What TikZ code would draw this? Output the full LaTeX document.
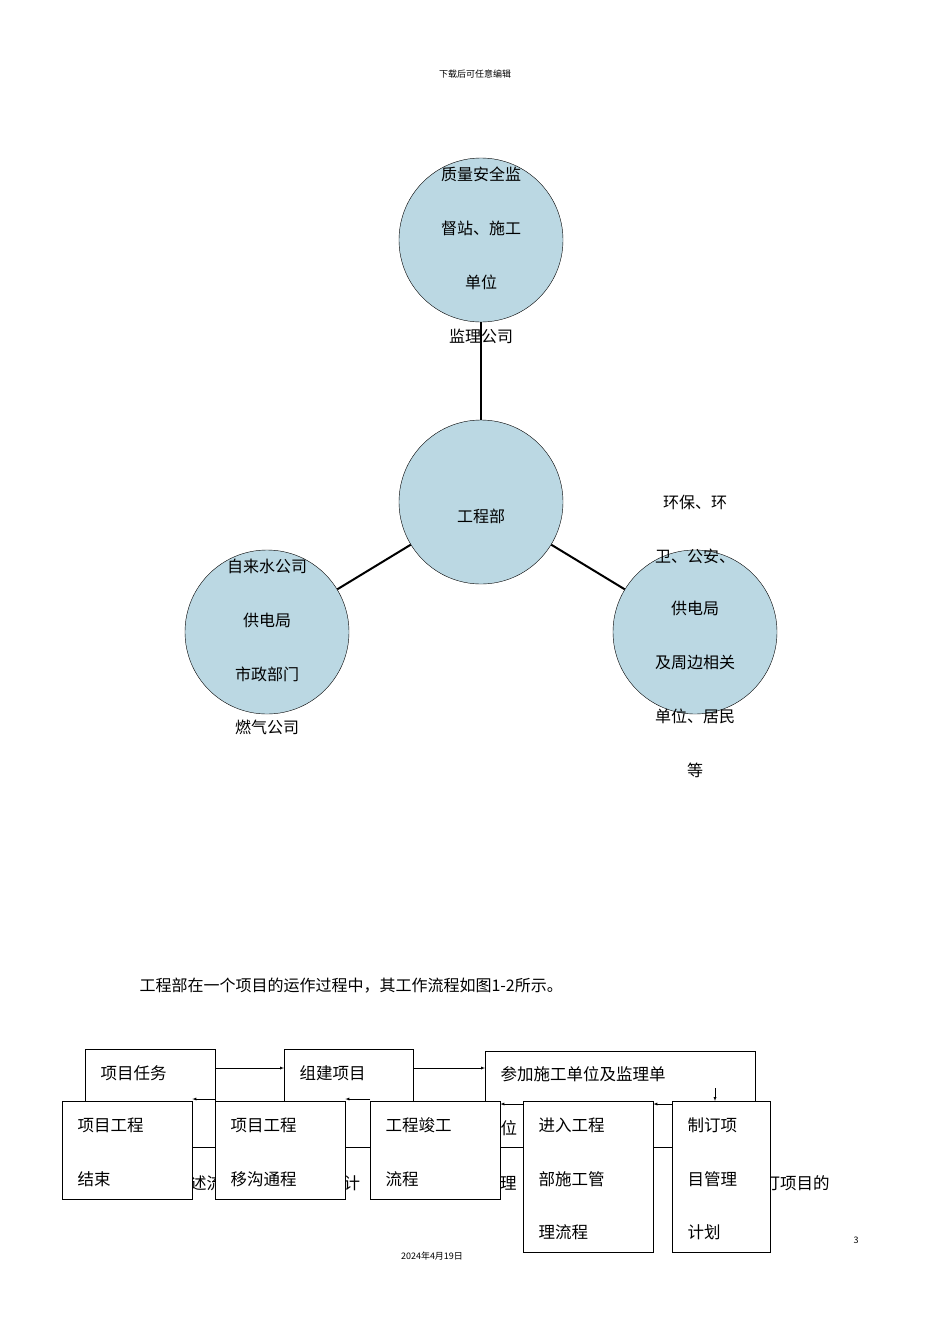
\documentclass[tikz,border=0pt]{standalone}
\usepackage{fontspec}
\setmainfont{Noto Sans CJK SC}
\newfontfamily\cjk{Noto Sans CJK SC}
\begin{document}
\begin{tikzpicture}[x=1pt,y=-1pt,
 circ/.style={circle,draw,fill=cyan!25!teal!30,minimum size=164pt,inner sep=0pt},
 ctext/.style={font=\fontsize{16}{16}\selectfont,align=center},
 fbox/.style={draw,fill=white,anchor=north west,inner sep=0pt},
 btext/.style={font=\fontsize{16.5}{16.5}\selectfont,anchor=west},
 conn/.style={line width=2pt},
 arr/.style={-latex}]
\useasboundingbox (0,0) rectangle (950,1344);
\fill[white] (0,0) rectangle (950,1344);
\node[font=\fontsize{9}{9}\selectfont] (hdr) at (475,74) {下载后可任意编辑};
% circles
\node[circ] (top) at (481,240) {};
\node[circ] (mid) at (481,502) {};
\node[circ] (lft) at (267,632) {};
\node[circ] (rgt) at (695,632) {};
\draw[conn] (top) -- (mid);
\draw[conn] (mid) -- (lft);
\draw[conn] (mid) -- (rgt);
\node[ctext] (t1) at (481,174) {质量安全监}; \node[ctext] (t2) at (481,228) {督站、施工};
\node[ctext] (t3) at (481,282) {单位}; \node[ctext] (t4) at (481,336) {监理公司};
\node[ctext] (m1) at (481,516) {工程部};
\node[ctext] (l1) at (267,566) {自来水公司}; \node[ctext] (l2) at (267,620) {供电局};
\node[ctext] (l3) at (267,674) {市政部门}; \node[ctext] (l4) at (267,727) {燃气公司};
\node[ctext] (r1) at (695,502) {环保、环}; \node[ctext] (r2) at (695,556) {卫、公安、};
\node[ctext] (r3) at (695,608) {供电局}; \node[ctext] (r4) at (695,662) {及周边相关};
\node[ctext] (r5) at (695,716) {单位、居民}; \node[ctext] (r6) at (695,770) {等};
\node[ctext,anchor=west] (cap) at (136,986) {工程部在一个项目的运作过程中，其工作流程如图1-2所示。};
% background line fragments
\node[btext] (bg1) at (170,1183) {描述流}; 
\node[btext] (bg2) at (340,1183) {计};
\node[btext] (bg3) at (480,1183) {管理};
\node[btext] (bg4) at (645,1183) {，};
\node[btext] (bg5) at (760,1183) {订项目的};
% top boxes
\node[fbox,minimum width=130pt,minimum height=98pt] (A) at (85,1049) {};
\node[btext] at (97,1073) {项目任务};
\node[fbox,minimum width=129pt,minimum height=98pt] (B) at (284,1049) {};
\node[btext] at (296,1073) {组建项目};
\node[fbox,minimum width=270pt,minimum height=96pt] (C) at (485,1051) {};
\node[btext] at (497,1074) {参加施工单位及监理单};
\node[btext] at (497,1128) {位};
% bottom boxes
\node[fbox,minimum width=130pt,minimum height=98pt] (D) at (62,1101) {};
\node[btext] at (74,1125) {项目工程}; \node[btext] at (74,1179) {结束};
\node[fbox,minimum width=130pt,minimum height=98pt] (E) at (215,1101) {};
\node[btext] at (227,1125) {项目工程}; \node[btext] at (227,1179) {移沟通程};
\node[fbox,minimum width=130pt,minimum height=98pt] (F) at (370,1101) {};
\node[btext] at (382,1125) {工程竣工}; \node[btext] at (382,1179) {流程};
\node[fbox,minimum width=130pt,minimum height=151pt] (G) at (523,1101) {};
\node[btext] at (535,1125) {进入工程}; \node[btext] at (535,1179) {部施工管}; \node[btext] at (535,1232) {理流程};
\node[fbox,minimum width=98pt,minimum height=151pt] (H) at (672,1101) {};
\node[btext] at (684,1125) {制订项}; \node[btext] at (684,1179) {目管理}; \node[btext] at (684,1232) {计划};
% arrows
\draw[arr] (A.east |- 0,1068) -- (B.west |- 0,1068);
\draw[arr] (B.east |- 0,1068) -- (C.west |- 0,1068);
\draw[arr] (715,1088) -- (H.north -| 715,0);
\draw[arr] (H.west |- 0,1104) -- (G.east |- 0,1104);
\draw[arr] (G.west |- 0,1104) -- (F.east |- 0,1104);
\draw[arr] (F.west |- 0,1099) -- (E.east |- 0,1099);
\draw[arr] (E.west |- 0,1099) -- (D.east |- 0,1099);
\node[font=\fontsize{9}{9}\selectfont] (pg) at (856,1240) {3};
\node[font=\fontsize{9}{9}\selectfont] (dt) at (432,1256) {2024年4月19日};
\end{tikzpicture}
\end{document}
